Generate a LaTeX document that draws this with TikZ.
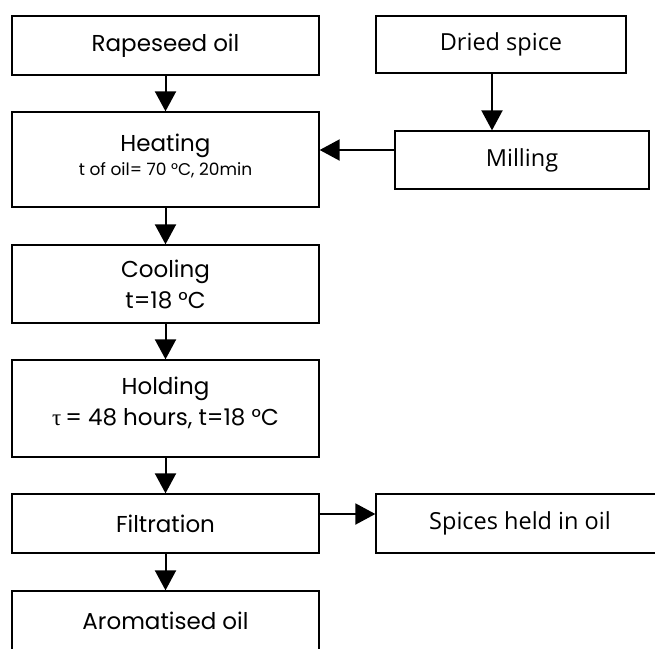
\documentclass[tikz,border=0pt]{standalone}
\usepackage{fontspec}
\setmainfont{Poppins}
\newfontfamily\sidefont{Open Sans}
\newfontfamily\greekfont{Liberation Serif}
\usetikzlibrary{arrows.meta}

\begin{document}
\begin{tikzpicture}[x=1pt,y=-1pt,line width=1.3pt,every node/.style={font=\fontsize{23}{31}\selectfont},
  stepbox/.style={draw,rectangle,inner sep=0pt,align=center,minimum width=307pt,minimum height=59pt},
  sidebox/.style={draw,rectangle,inner sep=0pt,minimum height=58pt,font=\sidefont\fontsize{23.5}{28}\selectfont},
  arr/.style={-{Triangle[length=20pt,width=21pt]},line width=2pt}]
\useasboundingbox (0,0) rectangle (655,648);
% main line
\node[stepbox] (raps) at (165.5,45.5) {Rapeseed oil};
\node[stepbox,minimum height=95pt] (heat) at (165.5,159.5) {};
\node[align=center] (heattxt) at ([yshift=4pt]heat.center) {Heating\\[-7pt]{\fontsize{17}{20}\selectfont t of oil= 70 °C, 20min}};
\node[stepbox,minimum height=78pt] (cool) at (165.5,284) {Cooling\\t=18 °C};
\node[stepbox,minimum height=97pt] (hold) at (165.5,408.5) {};
\node[align=center] (holdtxt) at ([yshift=6pt]hold.center) {Holding\\{\greekfont τ}\,= 48 hours, t=18 °C};
\node[stepbox] (filt) at (165.5,523.5) {Filtration};
\node[stepbox] (arom) at (165.5,620.5) {Aromatised oil};
% side line
\node[sidebox,minimum width=250pt,minimum height=57pt] (dried) at (501,44.5) {Dried spice};
\node[sidebox,minimum width=254pt] (mill) at (522,160) {Milling};
\node[sidebox,minimum width=288pt,minimum height=59pt] (spic) at (520,523.5) {Spices held in oil};
% arrows
\draw[arr] (raps) -- (heat); \draw[arr] (heat) -- (cool); \draw[arr] (cool) -- (hold);
\draw[arr] (hold) -- (filt); \draw[arr] (filt) -- (arom);
\draw[arr] ([xshift=-9pt]dried.south) -- ([xshift=-9pt]dried.south |- mill.north);
\draw[arr] ([yshift=10pt]mill.west) -- ([yshift=10pt]mill.west -| heat.east);
\draw[arr] ([yshift=9.5pt]filt.east) -- ([yshift=9.5pt]filt.east -| spic.west);
\end{tikzpicture}
\end{document}
